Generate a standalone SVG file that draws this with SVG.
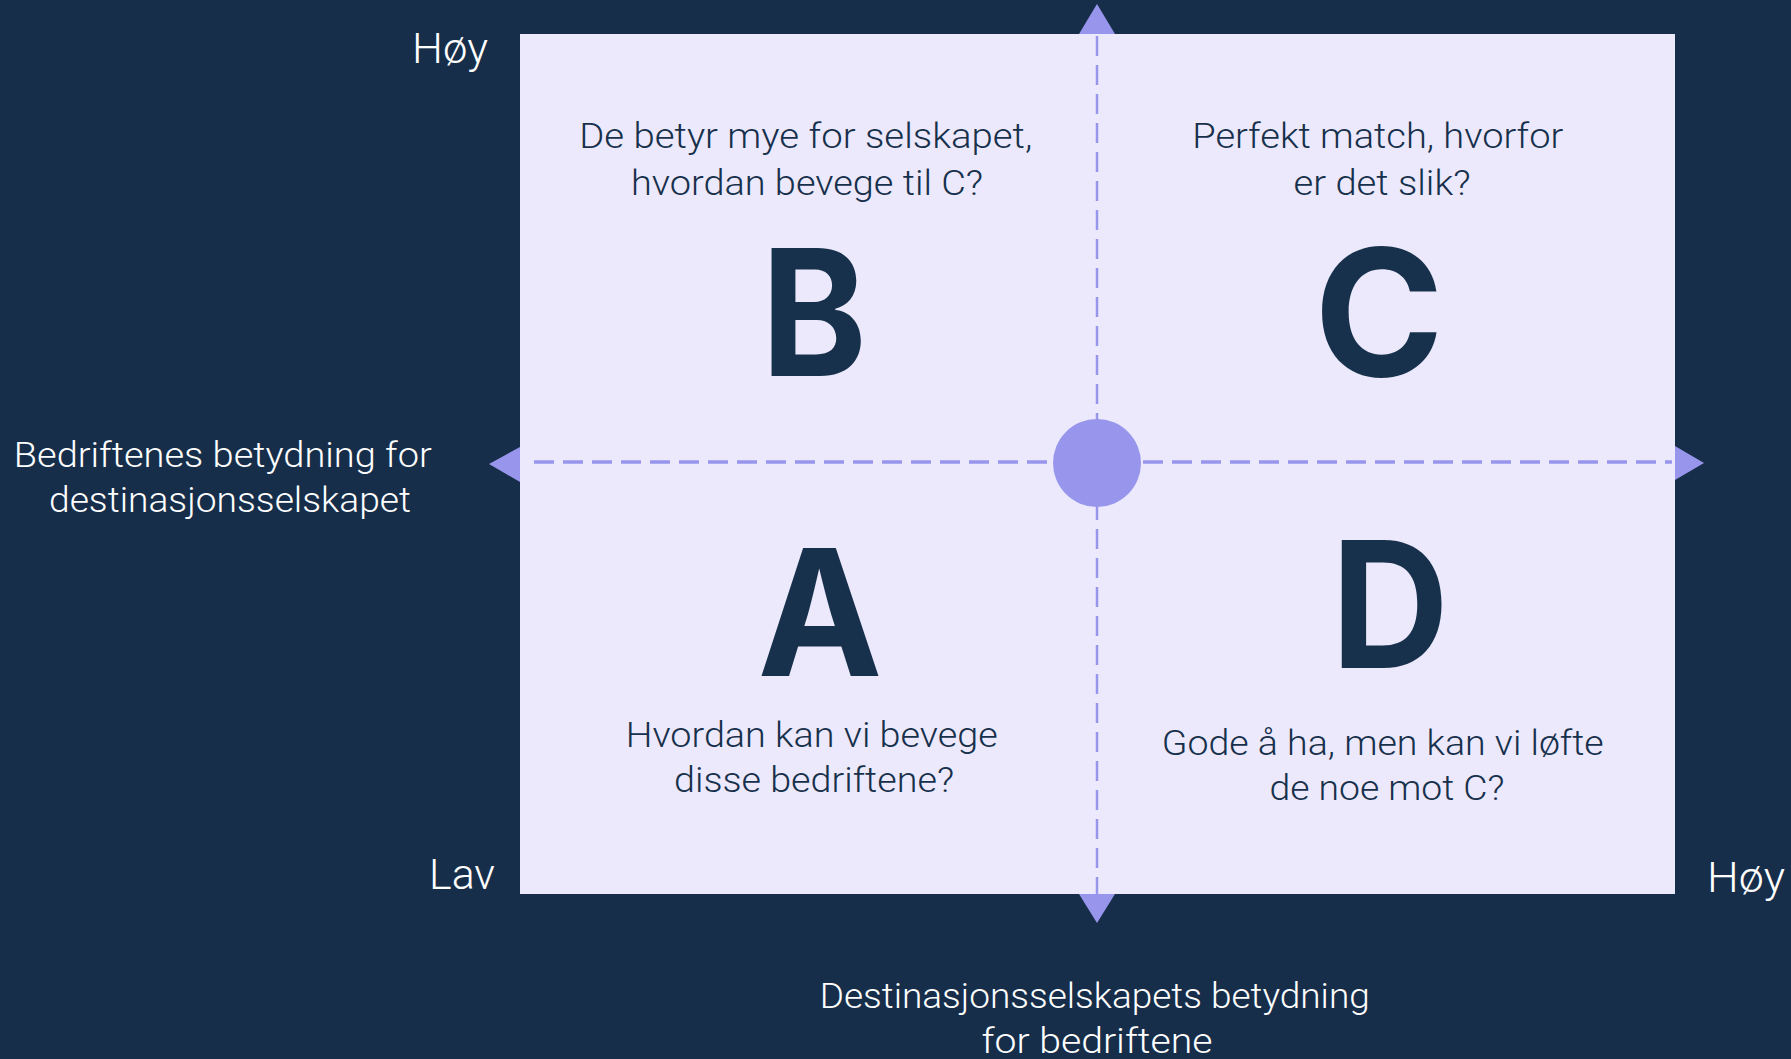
<svg xmlns="http://www.w3.org/2000/svg" width="1791" height="1059" viewBox="0 0 1791 1059">
  <defs>
    <style>
      .bg { fill: #172e4a; }
      .panel { fill: #ebe9fb; }
      .accent { fill: #9896ec; }
      .axis { fill: none; stroke: #9896ec; stroke-dasharray: 20 9; }
      .label { font-family: Roboto, "Liberation Sans", sans-serif; font-weight: 300; fill: #ffffff; }
      .body { font-family: Roboto, "Liberation Sans", sans-serif; font-weight: 300; font-size: 35px; fill: #17304b; text-anchor: middle; }
      .big { font-family: Inter, "Liberation Sans", sans-serif; font-weight: 700; font-size: 176px; fill: #17304b; text-anchor: middle; }
    </style>
  </defs>

  <rect class="bg" x="0" y="0" width="1791" height="1059"/>

  <!-- matrix area -->
  <rect id="matrix" class="panel" x="520" y="34" width="1155" height="860"/>

  <!-- axes -->
  <g id="connectors">
    <line class="axis" x1="1097" y1="36" x2="1097" y2="894" stroke-width="2.5"/>
    <line class="axis" x1="534" y1="462" x2="1672" y2="462" stroke-width="3.3"/>
    <polygon class="accent" points="1097,4 1079,34 1115,34"/>
    <polygon class="accent" points="1079,894 1115,894 1097,923"/>
    <polygon class="accent" points="520,447 520,482 489,464"/>
    <polygon class="accent" points="1675,446 1675,480 1704,463"/>
  </g>

  <circle id="origin" class="accent" cx="1097" cy="463" r="44"/>

  <!-- axis labels -->
  <g id="label-y-high"><text class="label" x="488" y="63" font-size="43" text-anchor="end" textLength="76" lengthAdjust="spacingAndGlyphs">Høy</text></g>
  <g id="label-low"><text class="label" x="495" y="889" font-size="43" text-anchor="end" textLength="66" lengthAdjust="spacingAndGlyphs">Lav</text></g>
  <g id="label-x-high"><text class="label" x="1707" y="892" font-size="43" textLength="78" lengthAdjust="spacingAndGlyphs">Høy</text></g>

  <g id="label-y-axis">
    <text class="label" font-size="35" text-anchor="middle">
      <tspan x="227" y="467" textLength="418" lengthAdjust="spacingAndGlyphs">Bedriftenes betydning for</tspan>
      <tspan x="230" y="512" textLength="362" lengthAdjust="spacingAndGlyphs">destinasjonsselskapet</tspan>
    </text>
  </g>

  <g id="label-x-axis">
    <text class="label" font-size="35" text-anchor="middle">
      <tspan x="1099" y="1008" textLength="550" lengthAdjust="spacingAndGlyphs">Destinasjonsselskapets betydning</tspan>
      <tspan x="1097" y="1053" textLength="231" lengthAdjust="spacingAndGlyphs">for bedriftene</tspan>
    </text>
  </g>

  <!-- quadrant B -->
  <g id="quadrant-b">
    <text class="body">
      <tspan x="810" y="148" textLength="453" lengthAdjust="spacingAndGlyphs">De betyr mye for selskapet,</tspan>
      <tspan x="807" y="195" textLength="352" lengthAdjust="spacingAndGlyphs">hvordan bevege til C?</tspan>
    </text>
    <text class="big" x="814" y="376" textLength="106" lengthAdjust="spacingAndGlyphs">B</text>
  </g>

  <!-- quadrant C -->
  <g id="quadrant-c">
    <text class="body">
      <tspan x="1382" y="148" textLength="371" lengthAdjust="spacingAndGlyphs">Perfekt match, hvorfor</tspan>
      <tspan x="1382" y="195" textLength="177" lengthAdjust="spacingAndGlyphs">er det slik?</tspan>
    </text>
    <text class="big" x="1379" y="376" textLength="130" lengthAdjust="spacingAndGlyphs">C</text>
  </g>

  <!-- quadrant A -->
  <g id="quadrant-a">
    <text class="big" x="820" y="676" textLength="125" lengthAdjust="spacingAndGlyphs">A</text>
    <text class="body">
      <tspan x="816" y="747" textLength="372" lengthAdjust="spacingAndGlyphs">Hvordan kan vi bevege</tspan>
      <tspan x="814" y="792" textLength="280" lengthAdjust="spacingAndGlyphs">disse bedriftene?</tspan>
    </text>
  </g>

  <!-- quadrant D -->
  <g id="quadrant-d">
    <text class="big" x="1390" y="668" textLength="118" lengthAdjust="spacingAndGlyphs">D</text>
    <text class="body">
      <tspan x="1387" y="755" textLength="442" lengthAdjust="spacingAndGlyphs">Gode å ha, men kan vi løfte</tspan>
      <tspan x="1387" y="800" textLength="235" lengthAdjust="spacingAndGlyphs">de noe mot C?</tspan>
    </text>
  </g>
</svg>
